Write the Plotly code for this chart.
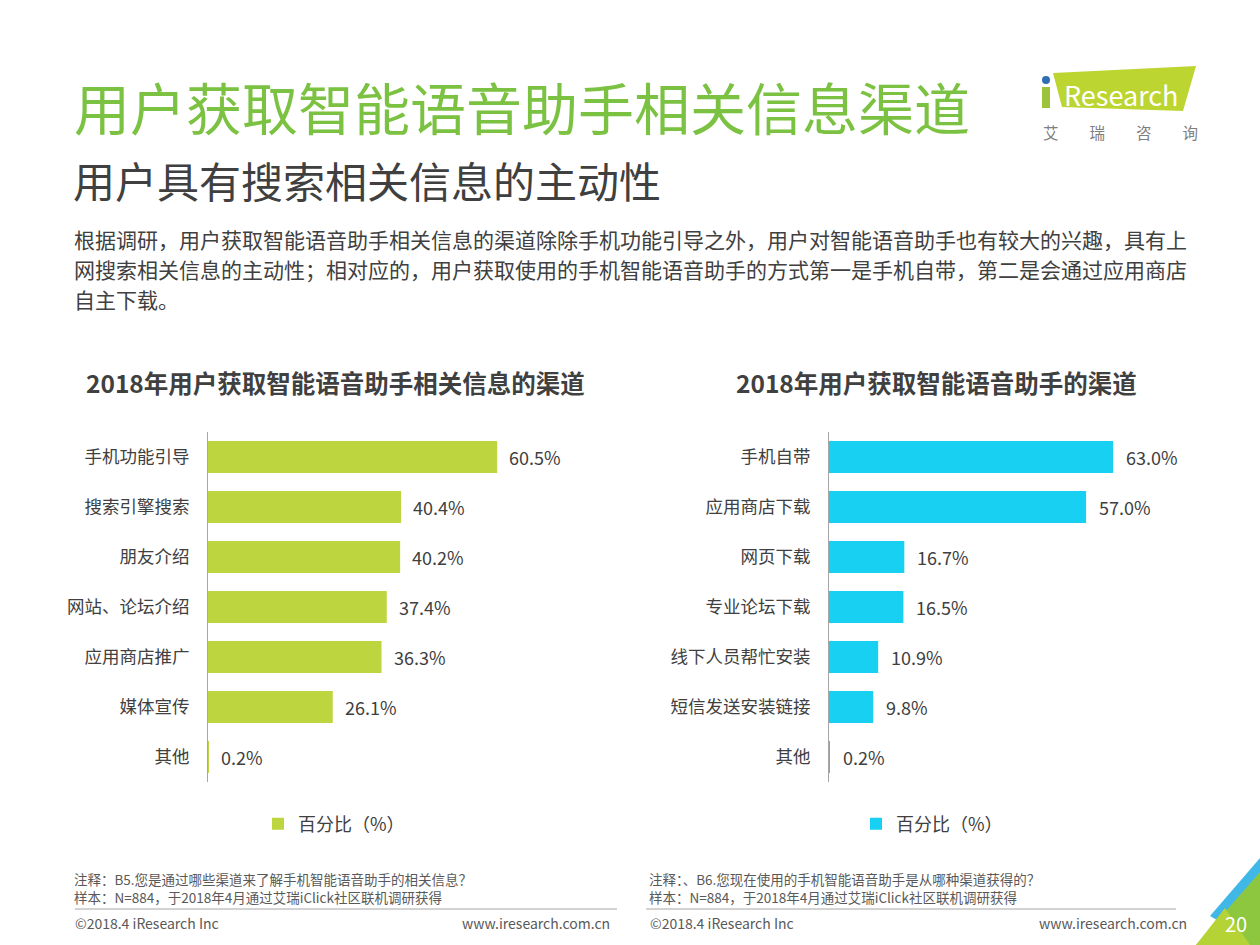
import plotly.graph_objects as go

W, H = 1260, 945
FONT = "Noto Sans CJK SC"

# ---------------- data ----------------
info_categories = ["手机功能引导", "搜索引擎搜索", "朋友介绍", "网站、论坛介绍", "应用商店推广", "媒体宣传", "其他"]
info_values = [60.5, 40.4, 40.2, 37.4, 36.3, 26.1, 0.2]

get_categories = ["手机自带", "应用商店下载", "网页下载", "专业论坛下载", "线下人员帮忙安装", "短信发送安装链接", "其他"]
get_values = [63.0, 57.0, 16.7, 16.5, 10.9, 9.8, 0.2]

series_name = "百分比（%）"
title_main = "用户获取智能语音助手相关信息渠道"
title_sub = "用户具有搜索相关信息的主动性"
paragraph = [
    "根据调研，用户获取智能语音助手相关信息的渠道除除手机功能引导之外，用户对智能语音助手也有较大的兴趣，具有上",
    "网搜索相关信息的主动性；相对应的，用户获取使用的手机智能语音助手的方式第一是手机自带，第二是会通过应用商店",
    "自主下载。",
]
chart_title_left = "2018年用户获取智能语音助手相关信息的渠道"
chart_title_right = "2018年用户获取智能语音助手的渠道"
notes_left = ["注释：B5.您是通过哪些渠道来了解手机智能语音助手的相关信息？",
              "样本：N=884，于2018年4月通过艾瑞iClick社区联机调研获得"]
notes_right = ["注释：、B6.您现在使用的手机智能语音助手是从哪种渠道获得的？",
               "样本：N=884，于2018年4月通过艾瑞iClick社区联机调研获得"]

GREEN = "#BDD63F"
CYAN = "#17D0F2"
TXT = "#404040"
GRAY = "#595959"


def px(x):
    return x / W


def py(y):
    return 1 - y / H


fig = go.Figure()

fig.add_trace(go.Bar(
    y=info_categories, x=info_values, orientation="h", name=series_name,
    marker=dict(color=GREEN, line=dict(width=0)), xaxis="x", yaxis="y",
    legend="legend", showlegend=True, hoverinfo="x+y",
))
fig.add_trace(go.Bar(
    y=get_categories, x=get_values, orientation="h", name=series_name,
    marker=dict(color=CYAN, line=dict(width=0)), xaxis="x2", yaxis="y2",
    legend="legend2", showlegend=True, hoverinfo="x+y",
))

ydom = [py(782), py(432)]
common_y = dict(
    type="category", autorange="reversed", showline=True, linecolor="#A6A6A6",
    linewidth=1, showgrid=False, zeroline=False, ticks="", ticklabelstandoff=14,
    tickfont=dict(family=FONT, size=17.5, color=TXT), domain=ydom, fixedrange=True,
)
legend_font = dict(family=FONT, size=18, color=TXT)
fig.update_layout(
    width=W, height=H, margin=dict(l=0, r=0, t=0, b=0),
    paper_bgcolor="white", plot_bgcolor="white",
    font=dict(family=FONT, color=TXT),
    bargap=0.36, showlegend=True,
    xaxis=dict(domain=[px(208), px(620)], range=[0, 412 / 4.78], visible=False, fixedrange=True),
    yaxis=dict(anchor="x", **common_y),
    xaxis2=dict(domain=[px(829), px(1240)], range=[0, 411 / 4.51], visible=False, fixedrange=True),
    yaxis2=dict(anchor="x2", **common_y),
    legend=dict(visible=True, x=px(258), y=py(824), xanchor="left", yanchor="middle", orientation="h",
                font=legend_font, bgcolor="rgba(0,0,0,0)"),
    legend2=dict(visible=True, x=px(856), y=py(824), xanchor="left", yanchor="middle", orientation="h",
                 font=legend_font, bgcolor="rgba(0,0,0,0)"),
)

ann = []
# value labels
for c, v in zip(info_categories, info_values):
    ann.append(dict(x=v, y=c, xref="x", yref="y", text=f"{v:.1f}%", showarrow=False,
                    xanchor="left", yanchor="middle", xshift=10,
                    font=dict(family=FONT, size=18, color=TXT)))
for c, v in zip(get_categories, get_values):
    ann.append(dict(x=v, y=c, xref="x2", yref="y2", text=f"{v:.1f}%", showarrow=False,
                    xanchor="left", yanchor="middle", xshift=11,
                    font=dict(family=FONT, size=18, color=TXT)))


def txt(x, y, s, size, color, xanchor="left", bold=False, align="left"):
    t = f"<b>{s}</b>" if bold else s
    ann.append(dict(x=px(x), y=py(y), xref="paper", yref="paper", text=t, showarrow=False,
                    xanchor=xanchor, yanchor="middle", align=align,
                    font=dict(family=FONT, size=size, color=color)))


txt(72, 106, title_main, 56, "#7CC242")
txt(71, 179, title_sub, 42, TXT)
for i, line in enumerate(paragraph):
    txt(72, 239 + 30 * i, line, 21, TXT)
txt(335, 383, chart_title_left, 24.5, TXT, xanchor="center", bold=True)
txt(936, 383, chart_title_right, 24.5, TXT, xanchor="center", bold=True)

txt(72, 888, "<br>".join(notes_left), 13.5, GRAY)
txt(647, 888, "<br>".join(notes_right), 13.5, GRAY)
txt(73, 923, "©2018.4 iResearch Inc", 14, GRAY)
txt(612, 923, "www.iresearch.com.cn", 14, GRAY, xanchor="right")
txt(648, 923, "©2018.4 iResearch Inc", 14, GRAY)
txt(1189, 923, "www.iresearch.com.cn", 14, GRAY, xanchor="right")

# logo text
txt(1121, 94, "Research", 27, "white", xanchor="center")
txt(1120, 132, "艾　　瑞　　咨　　询", 15.5, "#7F7F7F", xanchor="center")
# page number
txt(1236, 923, "20", 20, "white", xanchor="center")

shapes = []
# footer separator lines
shapes.append(dict(type="line", xref="paper", yref="paper", x0=px(75), x1=px(617), y0=py(909), y1=py(909),
                   line=dict(color="#A6A6A6", width=1)))
shapes.append(dict(type="line", xref="paper", yref="paper", x0=px(646), x1=px(1176), y0=py(909), y1=py(909),
                   line=dict(color="#A6A6A6", width=1)))


def poly(points, color):
    d = "M" + " L".join(f"{px(x)},{py(y)}" for x, y in points) + " Z"
    return dict(type="path", xref="paper", yref="paper", path=d, fillcolor=color,
                line=dict(width=0), layer="below")


# logo shapes
shapes.append(poly([(1053, 73), (1196, 66), (1183, 111), (1062, 107)], "#BDD531"))
shapes.append(poly([(1042, 87), (1050, 87), (1050, 108), (1042, 108)], "#9CC43A"))
shapes.append(dict(type="circle", xref="paper", yref="paper", x0=px(1042), x1=px(1050), y0=py(76), y1=py(84),
                   fillcolor="#2F6DB5", line=dict(width=0)))
# corner decoration
shapes.append(poly([(1260, 858), (1210, 916), (1260, 945)], "#3FB8E8"))
shapes.append(poly([(1260, 872), (1196, 945), (1260, 945)], "#8DC63F"))
shapes.append(poly([(1225, 908), (1196, 945), (1250, 945)], "#B5D334"))

fig.update_layout(annotations=ann, shapes=shapes)

fig.write_html("out.html", config={"displayModeBar": False},
               post_script="document.body.style.margin='0';document.body.style.overflow='hidden';")
